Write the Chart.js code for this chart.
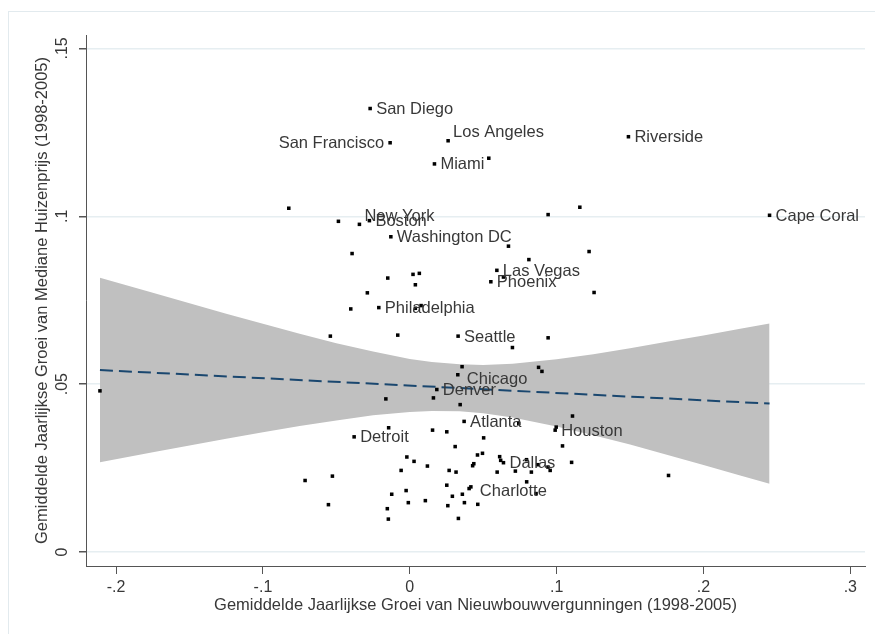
<!DOCTYPE html>
<html>
<head>
<meta charset="utf-8">
<script src="https://cdn.jsdelivr.net/npm/chart.js@4/dist/chart.umd.min.js"></script>
<style>
  html, body { margin: 0; padding: 0; background: #ffffff; }
  #wrap { width: 875px; height: 634px; }
</style>
</head>
<body>
<div id="wrap"><canvas id="c" width="875" height="634"></canvas></div>
<script>
// Metropolitan areas shown with a name
const cityNames = ['San Diego', 'San Francisco', 'Los Angeles', 'Miami', 'Riverside', 'Cape Coral',
  'New York', 'Boston', 'Washington DC', 'Las Vegas', 'Phoenix', 'Philadelphia', 'Seattle',
  'Chicago', 'Denver', 'Atlanta', 'Houston', 'Detroit', 'Dallas', 'Charlotte'];
const cityPermitGrowth = [-0.0270, -0.0134, 0.0261, 0.0168, 0.1489, 0.2450,
  -0.0343, -0.0275, -0.0129, 0.0593, 0.0552, -0.0211, 0.0329,
  0.0327, 0.0184, 0.0370, 0.0990, -0.0379, 0.0638, 0.0416];
const cityPriceGrowth = [0.1321, 0.1219, 0.1225, 0.1156, 0.1237, 0.1003,
  0.0976, 0.0987, 0.0939, 0.0839, 0.0805, 0.0728, 0.0643,
  0.0528, 0.0484, 0.0389, 0.0363, 0.0343, 0.0266, 0.0194];

// Remaining metropolitan areas
const otherPermitGrowth = [0.0538, -0.0824, -0.0486, 0.0942, 0.1158, 0.0672, 0.0811, 0.0638,
  -0.0393, -0.0150, 0.0022, 0.0065, 0.0038, -0.0289, -0.0402, 0.0038, 0.0077, 0.1221, 0.1255,
  0.0942, -0.0541, -0.0082, 0.0699, 0.0356, 0.0877, 0.0900, 0.0161, -0.0163, 0.0343, 0.0742,
  0.1108, 0.0997, 0.1040, -0.0144, 0.0155, 0.0252, 0.0503, 0.0309, -0.0020, 0.0029, 0.0120,
  -0.0059, 0.0268, 0.0315, 0.0428, 0.0436, 0.0461, 0.0495, 0.0612, 0.0619, 0.0795, 0.0871,
  0.0941, 0.0956, 0.1102, 0.0595, 0.0719, 0.0828, 0.0796, 0.1762, -0.0713, -0.0527, -0.0554,
  -0.0123, -0.0025, -0.0010, 0.0106, -0.0153, -0.0146, 0.0252, 0.0290, 0.0259, 0.0358, 0.0372,
  0.0331, 0.0404, 0.0463, 0.0860, -0.2110];
const otherPriceGrowth = [0.1173, 0.1024, 0.0985, 0.1005, 0.1027, 0.0911, 0.0871, 0.0819,
  0.0889, 0.0816, 0.0827, 0.0830, 0.0796, 0.0772, 0.0724, 0.0726, 0.0734, 0.0895, 0.0773,
  0.0638, 0.0643, 0.0646, 0.0609, 0.0552, 0.0550, 0.0538, 0.0459, 0.0456, 0.0439, 0.0383,
  0.0405, 0.0372, 0.0316, 0.0370, 0.0363, 0.0358, 0.0340, 0.0314, 0.0283, 0.0270, 0.0256,
  0.0243, 0.0243, 0.0238, 0.0257, 0.0263, 0.0289, 0.0294, 0.0284, 0.0273, 0.0275, 0.0260,
  0.0253, 0.0243, 0.0267, 0.0238, 0.0241, 0.0238, 0.0209, 0.0228, 0.0213, 0.0226, 0.0141,
  0.0172, 0.0183, 0.0147, 0.0153, 0.0129, 0.0098, 0.0199, 0.0166, 0.0138, 0.0172, 0.0147,
  0.0100, 0.0189, 0.0142, 0.0174, 0.0480];

// Linear fit and its confidence band
const fitX = [-0.211, 0.245];
const fitY = [0.0542, 0.0442];
const bandX = [-0.211, -0.175, -0.15, -0.125, -0.1, -0.075, -0.05, -0.025, 0, 0.015,
  0.034, 0.05, 0.07, 0.1, 0.125, 0.15, 0.175, 0.2, 0.225, 0.245];
const bandUpper = [0.0817, 0.0772, 0.0741, 0.0710, 0.0680, 0.0650, 0.0622, 0.0597, 0.0575, 0.0566,
  0.0559, 0.0557, 0.0561, 0.0574, 0.0589, 0.0607, 0.0626, 0.0645, 0.0665, 0.0681];
const bandLower = [0.0267, 0.0297, 0.0317, 0.0337, 0.0357, 0.0375, 0.0392, 0.0407, 0.0417, 0.0420,
  0.0419, 0.0413, 0.0401, 0.0374, 0.0348, 0.0320, 0.0290, 0.0259, 0.0228, 0.0203];

// Axis ticks
const xTickValues = [-0.2, -0.1, 0, 0.1, 0.2, 0.3];
const xTickLabels = ['-.2', '-.1', '0', '.1', '.2', '.3'];
const yTickValues = [0, 0.05, 0.1, 0.15];
const yTickLabels = ['0', '.05', '.1', '.15'];

const xTitle = 'Gemiddelde Jaarlijkse Groei van Nieuwbouwvergunningen (1998-2005)';
const yTitle = 'Gemiddelde Jaarlijkse Groei van Mediane Huizenprijs (1998-2005)';

// Marker label placement (clock position style)
const labelClock = { 'San Francisco': 9, 'New York': 2, 'Los Angeles': 2, 'Chicago': 4, 'Charlotte': 4 };

const FONT = "'Liberation Sans', Arial, sans-serif";
const TEXT = '#383838';
const AXIS = '#555555';

const toPoints = (xs, ys) => xs.map((x, i) => ({ x: x, y: ys[i] }));

const outerFrame = {
  id: 'outerFrame',
  beforeDraw(chart) {
    const ctx = chart.ctx;
    ctx.save();
    ctx.fillStyle = '#ffffff';
    ctx.fillRect(0, 0, chart.width, chart.height);
    ctx.strokeStyle = '#e2eaee';
    ctx.lineWidth = 1;
    ctx.strokeRect(8.5, 11.5, chart.width + 20, chart.height + 20);
    ctx.restore();
  }
};

const cityLabels = {
  id: 'cityLabels',
  afterDatasetsDraw(chart) {
    const ctx = chart.ctx;
    const xs = chart.scales.x, ys = chart.scales.y;
    ctx.save();
    ctx.font = '16.5px ' + FONT;
    ctx.fillStyle = TEXT;
    ctx.textBaseline = 'middle';
    cityNames.forEach((name, i) => {
      const px = xs.getPixelForValue(cityPermitGrowth[i]);
      const py = ys.getPixelForValue(cityPriceGrowth[i]);
      const clock = labelClock[name] || 3;
      let dx = 6, dy = 1, align = 'left';
      if (clock === 9) { dx = -6; align = 'right'; }
      if (clock === 2) { dx = 5; dy = -8; }
      if (clock === 4) { dx = 9; dy = 5; }
      ctx.textAlign = align;
      ctx.fillText(name, px + dx, py + dy);
    });
    ctx.restore();
  }
};

new Chart(document.getElementById('c'), {
  type: 'scatter',
  data: {
    datasets: [
      {
        type: 'line',
        data: toPoints(bandX, bandUpper),
        borderWidth: 0,
        pointRadius: 0,
        backgroundColor: '#c0c0c0',
        fill: '+1',
        order: 4
      },
      {
        type: 'line',
        data: toPoints(bandX, bandLower),
        borderWidth: 0,
        pointRadius: 0,
        fill: false,
        order: 5
      },
      {
        type: 'line',
        data: toPoints(fitX, fitY),
        borderColor: '#1a476f',
        borderWidth: 2,
        borderDash: [13, 6],
        pointRadius: 0,
        fill: false,
        order: 2
      },
      {
        data: toPoints(otherPermitGrowth, otherPriceGrowth),
        pointStyle: 'rect',
        pointRadius: 2.5,
        borderWidth: 0,
        backgroundColor: '#000000',
        order: 1
      },
      {
        data: toPoints(cityPermitGrowth, cityPriceGrowth),
        pointStyle: 'rect',
        pointRadius: 2.5,
        borderWidth: 0,
        backgroundColor: '#000000',
        order: 0
      }
    ]
  },
  options: {
    responsive: false,
    animation: false,
    devicePixelRatio: 1,
    layout: { padding: { left: 0, right: 10, top: 35, bottom: 0 } },
    plugins: {
      legend: { display: false },
      tooltip: { enabled: false }
    },
    scales: {
      x: {
        type: 'linear',
        position: 'bottom',
        min: -0.2205,
        max: 0.310,
        afterBuildTicks: s => { s.ticks = xTickValues.map(v => ({ value: v })); },
        afterFit: s => { s.height = 68; },
        ticks: {
          autoSkip: false,
          maxRotation: 0,
          padding: 4,
          color: TEXT,
          font: { family: FONT, size: 16 },
          callback: (v, i) => xTickLabels[i]
        },
        grid: { drawOnChartArea: false, tickLength: 8, tickColor: AXIS, color: AXIS },
        border: { display: true, color: AXIS, width: 1 },
        title: {
          display: true,
          text: xTitle,
          color: TEXT,
          font: { family: FONT, size: 16.5 },
          padding: { top: 0, bottom: 19 }
        }
      },
      y: {
        type: 'linear',
        min: -0.00417,
        max: 0.154,
        afterBuildTicks: s => { s.ticks = yTickValues.map(v => ({ value: v })); },
        afterFit: s => { s.width = 86; },
        ticks: {
          autoSkip: false,
          minRotation: 90,
          maxRotation: 90,
          crossAlign: 'center',
          padding: 5,
          color: TEXT,
          font: { family: FONT, size: 16 },
          callback: (v, i) => yTickLabels[i]
        },
        grid: { color: '#e6eef1', lineWidth: 1.5, tickLength: 7, tickColor: AXIS },
        border: { display: true, color: AXIS, width: 1 },
        title: {
          display: true,
          text: yTitle,
          color: TEXT,
          font: { family: FONT, size: 16.5 },
          padding: { top: 33, bottom: 0 }
        }
      }
    }
  },
  plugins: [outerFrame, cityLabels]
});
</script>
</body>
</html>
